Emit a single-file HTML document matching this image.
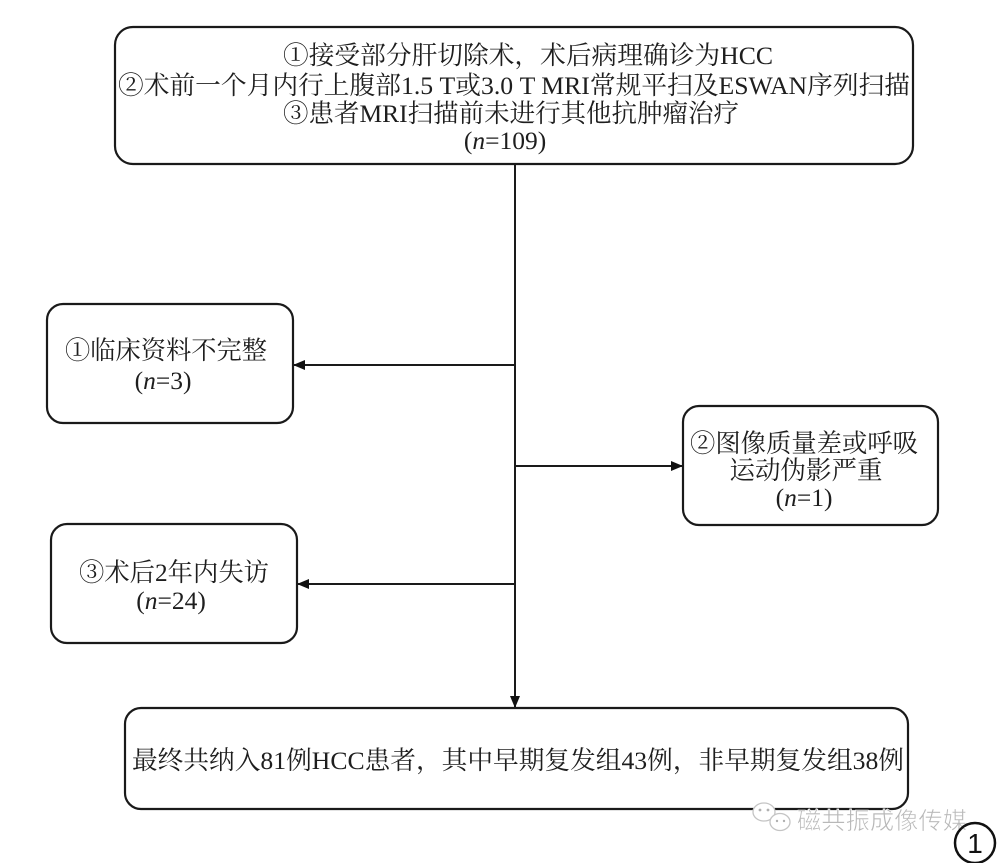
<!DOCTYPE html>
<html>
<head>
<meta charset="utf-8">
<style>
html,body{margin:0;padding:0;background:#fff;}
svg{display:block;}
.t{font-family:"Liberation Serif","Noto Serif CJK SC","Noto Serif CJK JP","Noto Serif SC",serif;font-size:25.5px;fill:#1e1e1e;}
.wm{font-family:"Liberation Sans","Noto Sans CJK SC",sans-serif;font-size:24px;fill:#b8b8b8;}
</style>
</head>
<body>
<svg width="1000" height="863" viewBox="0 0 1000 863" xmlns="http://www.w3.org/2000/svg">
  <defs>
    <marker id="ah" markerWidth="12" markerHeight="10" refX="11" refY="5" orient="auto" markerUnits="userSpaceOnUse">
      <path d="M0,0 L12,5 L0,10 Z" fill="#111"/>
    </marker>
  </defs>

  <!-- connectors -->
  <g stroke="#1a1a1a" stroke-width="2" fill="none">
    <line x1="515" y1="164" x2="515" y2="707" marker-end="url(#ah)"/>
    <line x1="515" y1="365" x2="294" y2="365" marker-end="url(#ah)"/>
    <line x1="515" y1="466" x2="682" y2="466" marker-end="url(#ah)"/>
    <line x1="515" y1="584" x2="298" y2="584" marker-end="url(#ah)"/>
  </g>

  <!-- boxes -->
  <g stroke="#1a1a1a" stroke-width="2.2" fill="#fff">
    <rect x="115" y="27" width="798" height="137" rx="18" ry="18"/>
    <rect x="47" y="304" width="246" height="119" rx="16" ry="16"/>
    <rect x="683" y="406" width="255" height="119" rx="16" ry="16"/>
    <rect x="51" y="524" width="246" height="119" rx="16" ry="16"/>
    <rect x="125" y="708" width="783" height="101" rx="16" ry="16"/>
  </g>

  <!-- top box text -->
  <text class="t" x="528" y="64" text-anchor="middle" textLength="490" lengthAdjust="spacingAndGlyphs">①接受部分肝切除术，术后病理确诊为HCC</text>
  <text class="t" x="514" y="94" text-anchor="middle" textLength="792" lengthAdjust="spacingAndGlyphs">②术前一个月内行上腹部1.5 T或3.0 T MRI常规平扫及ESWAN序列扫描</text>
  <text class="t" x="511" y="122" text-anchor="middle" textLength="456" lengthAdjust="spacingAndGlyphs">③患者MRI扫描前未进行其他抗肿瘤治疗</text>
  <text class="t" x="505" y="149" text-anchor="middle">(<tspan font-style="italic">n</tspan>=109)</text>

  <!-- box 1 -->
  <text class="t" x="166" y="359" text-anchor="middle" textLength="202" lengthAdjust="spacingAndGlyphs">①临床资料不完整</text>
  <text class="t" x="163" y="389" text-anchor="middle">(<tspan font-style="italic">n</tspan>=3)</text>

  <!-- box 2 -->
  <text class="t" x="804" y="452" text-anchor="middle" textLength="228" lengthAdjust="spacingAndGlyphs">②图像质量差或呼吸</text>
  <text class="t" x="806" y="479" text-anchor="middle">运动伪影严重</text>
  <text class="t" x="804" y="506" text-anchor="middle">(<tspan font-style="italic">n</tspan>=1)</text>

  <!-- box 3 -->
  <text class="t" x="174" y="581" text-anchor="middle" textLength="190" lengthAdjust="spacingAndGlyphs">③术后2年内失访</text>
  <text class="t" x="171" y="609" text-anchor="middle">(<tspan font-style="italic">n</tspan>=24)</text>

  <!-- bottom box -->
  <text class="t" x="518" y="769" text-anchor="middle" textLength="772" lengthAdjust="spacingAndGlyphs">最终共纳入81例HCC患者，其中早期复发组43例，非早期复发组38例</text>

  <!-- watermark -->
  <g stroke="#c4c4c4" stroke-width="1.3" fill="#fff">
    <ellipse cx="764" cy="812" rx="11" ry="9"/>
    <ellipse cx="780" cy="822" rx="10" ry="8.5"/>
  </g>
  <g fill="#b0b0b0">
    <circle cx="760" cy="810" r="1.4"/>
    <circle cx="768" cy="810" r="1.4"/>
    <circle cx="777" cy="821" r="1.2"/>
    <circle cx="784" cy="821" r="1.2"/>
  </g>
  <text class="wm" x="797" y="829" textLength="170" lengthAdjust="spacingAndGlyphs" stroke="#fff" stroke-width="0.6">磁共振成像传媒</text>

  <!-- figure number -->
  <circle cx="975" cy="843" r="20" fill="none" stroke="#111" stroke-width="2.5"/>
  <text x="975" y="853" text-anchor="middle" font-family="Liberation Sans, sans-serif" font-size="28" fill="#111">1</text>
</svg>
</body>
</html>
